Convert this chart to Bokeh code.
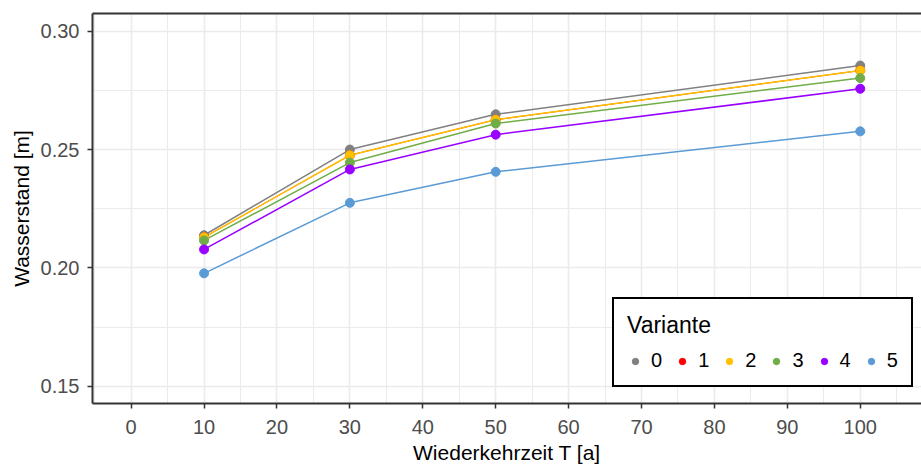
from bokeh.plotting import figure
from bokeh.models import (Range1d, FixedTicker, LinearAxis, Legend, LegendItem,
                          NumeralTickFormatter)
from bokeh.embed import file_html
from bokeh.resources import INLINE

# ---- data ----
T = [10, 30, 50, 100]
variants = ["0", "1", "2", "3", "4", "5"]
v0 = [0.2138, 0.2500, 0.2649, 0.2855]
v1 = [0.2129, 0.2476, 0.2626, 0.2834]
v2 = [0.2129, 0.2476, 0.2626, 0.2834]
v3 = [0.2116, 0.2445, 0.2610, 0.2802]
v4 = [0.2078, 0.2416, 0.2563, 0.2757]
v5 = [0.1977, 0.2275, 0.2406, 0.2577]
series = [v0, v1, v2, v3, v4, v5]
colors = ["#808080", "#FF0000", "#FFC000", "#70AD47", "#9900FF", "#5B9BD5"]
line_widths = [1.5, 1.0, 1.5, 1.5, 1.5, 1.5]

x_ticks = [0, 10, 20, 30, 40, 50, 60, 70, 80, 90, 100]
x_minor = [-5, 5, 15, 25, 35, 45, 55, 65, 75, 85, 95, 105]
y_ticks = [0.15, 0.20, 0.25, 0.30]
y_minor = [0.175, 0.225, 0.275]
x_title = "Wiederkehrzeit T [a]"
y_title = "Wasserstand [m]"

FONT = "Liberation Sans"

p = figure(width=921, height=466, output_backend="svg", toolbar_location=None,
           x_range=Range1d(-5.3, 108.4), y_range=Range1d(0.1427, 0.3075),
           min_border_left=92, min_border_right=0, min_border_top=13,
           min_border_bottom=62, x_axis_label=x_title, y_axis_label=y_title)
p.outline_line_color = None
p.background_fill_color = "white"
p.border_fill_color = "white"

p.xaxis.ticker = FixedTicker(ticks=x_ticks, minor_ticks=x_minor)
p.yaxis.ticker = FixedTicker(ticks=y_ticks, minor_ticks=y_minor)
p.yaxis.formatter = NumeralTickFormatter(format="0.00")

for ax in (p.xaxis[0], p.yaxis[0]):
    ax.axis_line_color = "#333333"
    ax.axis_line_width = 2
    ax.major_tick_line_color = "#333333"
    ax.major_tick_line_width = 1.5
    ax.major_tick_out = 5
    ax.major_tick_in = 0
    ax.minor_tick_line_color = None
    ax.major_label_text_font = FONT
    ax.major_label_text_font_size = "20px"
    ax.major_label_text_color = "#4D4D4D"
    ax.major_label_standoff = 8
    ax.axis_label_text_font = FONT
    ax.axis_label_text_font_size = "21px"
    ax.axis_label_text_font_style = "normal"
    ax.axis_label_text_color = "black"
    ax.axis_label_standoff = 5
p.xaxis[0].major_label_standoff = 11
p.xaxis[0].axis_label_standoff = 4

top = LinearAxis(ticker=FixedTicker(ticks=[]), axis_line_color="#333333",
                 axis_line_width=2, major_tick_line_color=None,
                 minor_tick_line_color=None, major_label_text_font_size="0px")
p.add_layout(top, "above")

for g in (p.xgrid[0], p.ygrid[0]):
    g.grid_line_color = "#EBEBEB"
    g.grid_line_width = 1.6
    g.minor_grid_line_color = "#EBEBEB"
    g.minor_grid_line_width = 1.0

for vals, c, lw in zip(series, colors, line_widths):
    p.line(T, vals, line_color=c, line_width=lw)

items = []
for name, vals, c in zip(variants, series, colors):
    r = p.scatter(T, vals, size=9, fill_color=c, line_color=c)
    items.append(LegendItem(label=name, renderers=[r]))

legend = Legend(items=items, location=(520, 16), orientation="horizontal",
                title="Variante", margin=0, padding=13, spacing=12,
                glyph_width=16, glyph_height=16, label_standoff=8,
                label_width=11, label_height=20, title_standoff=10,
                border_line_color="black", border_line_width=2,
                border_line_alpha=1,
                background_fill_color="white", background_fill_alpha=1,
                label_text_font=FONT, label_text_font_size="20px",
                label_text_color="black",
                title_text_font=FONT, title_text_font_size="23px",
                title_text_font_style="normal", title_text_color="black")
p.add_layout(legend, "center")

open("out.html", "w").write(file_html(p, INLINE))
